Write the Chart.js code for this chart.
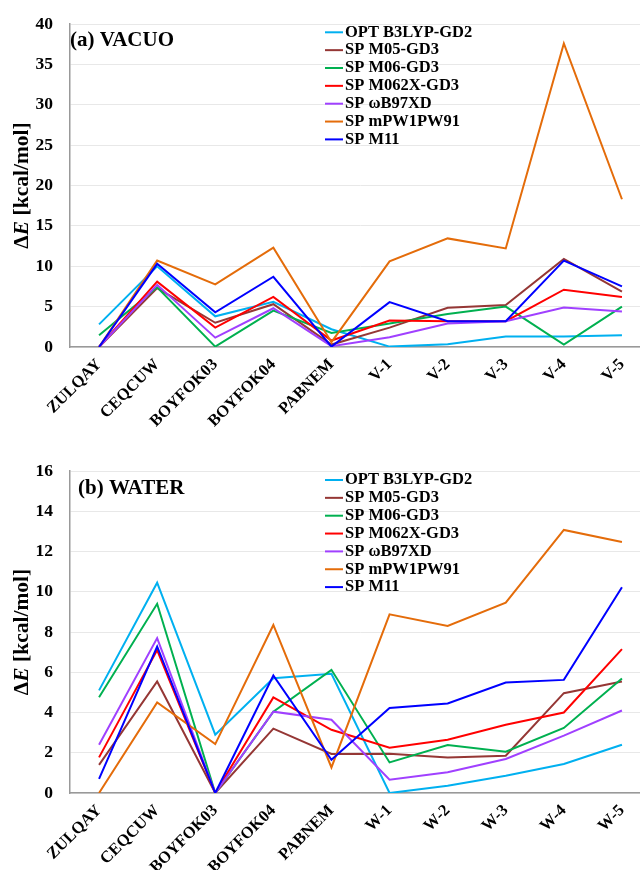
<!DOCTYPE html>
<html>
<head>
<meta charset="utf-8">
<script src="https://cdn.jsdelivr.net/npm/chart.js@4.4.0/dist/chart.umd.min.js"></script>
<style>
  html, body { margin: 0; padding: 0; background: #fff; }
  #wrap { position: relative; width: 640px; height: 870px; overflow: hidden; }
  canvas { position: absolute; left: 0; }
  #chartA { top: 0; }
  #chartB { top: 435px; }
</style>
</head>
<body>
<div id="wrap">
  <canvas id="chartA" width="651" height="435" style="width:651px;height:435px"></canvas>
  <canvas id="chartB" width="651" height="435" style="width:651px;height:435px"></canvas>
</div>
<script>
const vacuoLabels = ["ZULQAY", "CEQCUW", "BOYFOK03", "BOYFOK04", "PABNEM", "V-1", "V-2", "V-3", "V-4", "V-5"];
const waterLabels = ["ZULQAY", "CEQCUW", "BOYFOK03", "BOYFOK04", "PABNEM", "W-1", "W-2", "W-3", "W-4", "W-5"];

const seriesNames = ["OPT B3LYP-GD2", "SP M05-GD3", "SP M06-GD3", "SP M062X-GD3", "SP ωB97XD", "SP mPW1PW91", "SP M11"];
const seriesColors = ["#00B0F0", "#953735", "#00B050", "#FF0000", "#A040FF", "#E46C0A", "#0000FF"];

// (a) vacuo, kcal/mol
const vacuoOpt   = [2.8, 10.0, 3.8, 5.6, 2.2, 0.05, 0.33, 1.3, 1.3, 1.45];
const vacuoM05   = [0, 7.3, 3.0, 5.3, 0.3, 2.4, 4.85, 5.2, 10.9, 6.85];
const vacuoM06   = [1.45, 7.4, 0.05, 4.5, 1.75, 2.9, 4.1, 5.0, 0.3, 5.0];
const vacuoM062X = [0, 8.1, 2.4, 6.2, 0.8, 3.28, 3.2, 3.2, 7.1, 6.2];
const vacuoWB97  = [0, 7.7, 1.16, 4.8, 0.1, 1.2, 2.9, 3.2, 4.9, 4.4];
const vacuoMPW   = [0, 10.7, 7.76, 12.3, 0.6, 10.6, 13.45, 12.2, 37.6, 18.3];
const vacuoM11   = [0, 10.3, 4.3, 8.7, 0.05, 5.56, 3.2, 3.2, 10.7, 7.5];

// (b) water, kcal/mol
const waterOpt   = [5.1, 10.45, 2.9, 5.7, 5.92, 0, 0.36, 0.86, 1.44, 2.4];
const waterM05   = [1.4, 5.54, 0, 3.2, 1.94, 1.95, 1.77, 1.85, 4.96, 5.54];
const waterM06   = [4.76, 9.4, 0, 4.04, 6.12, 1.52, 2.38, 2.05, 3.23, 5.69];
const waterM062X = [1.77, 7.1, 0, 4.75, 3.14, 2.25, 2.65, 3.39, 4.0, 7.15];
const waterWB97  = [2.4, 7.7, 0, 4.04, 3.64, 0.66, 1.03, 1.69, 2.85, 4.1];
const waterMPW   = [0, 4.5, 2.43, 8.35, 1.27, 8.88, 8.3, 9.46, 13.07, 12.47];
const waterM11   = [0.7, 7.28, 0, 5.84, 1.65, 4.22, 4.45, 5.49, 5.62, 10.22];

const vacuoSeries = [vacuoOpt, vacuoM05, vacuoM06, vacuoM062X, vacuoWB97, vacuoMPW, vacuoM11];
const waterSeries = [waterOpt, waterM05, waterM06, waterM062X, waterWB97, waterMPW, waterM11];

const serif = "'Liberation Serif', 'Times New Roman', serif";

function decor(panelTitle, titleDx, titleDy, legendDy) {
  return {
    id: "decor",
    afterDraw(chart) {
      const ctx = chart.ctx;
      const area = chart.chartArea;
      ctx.save();
      ctx.fillStyle = "#000";
      ctx.textBaseline = "middle";
      ctx.textAlign = "left";

      ctx.font = `bold 21px ${serif}`;
      ctx.fillText(panelTitle, area.left + titleDx, area.top + titleDy);

      // legend inside the plot
      ctx.font = `bold 16.5px ${serif}`;
      chart.data.datasets.forEach((ds, i) => {
        const y = area.top + legendDy + i * 17.85;
        ctx.strokeStyle = ds.borderColor;
        ctx.lineWidth = 2;
        ctx.beginPath();
        ctx.moveTo(325, y);
        ctx.lineTo(343, y);
        ctx.stroke();
        ctx.fillText(ds.label, 345, y);
      });

      // y axis title: ΔE [kcal/mol], E in italics
      const parts = [["Δ", "bold"], ["E", "italic bold"], [" [kcal/mol]", "bold"]];
      let total = 0;
      parts.forEach(p => { ctx.font = `${p[1]} 21.5px ${serif}`; total += ctx.measureText(p[0]).width; });
      ctx.translate(22, (area.top + area.bottom) / 2);
      ctx.rotate(-Math.PI / 2);
      let x = -total / 2;
      parts.forEach(p => {
        ctx.font = `${p[1]} 21.5px ${serif}`;
        ctx.fillText(p[0], x, 0);
        x += ctx.measureText(p[0]).width;
      });
      ctx.restore();
    }
  };
}

function makeChart(id, labels, series, yMax, yStep, top, xHeight, plugin) {
  return new Chart(document.getElementById(id), {
    type: "line",
    data: {
      labels,
      datasets: series.map((values, i) => ({
        label: seriesNames[i],
        data: values,
        borderColor: seriesColors[i],
        backgroundColor: seriesColors[i],
        borderWidth: 2,
        pointRadius: 0,
        tension: 0,
        fill: false,
        order: seriesNames.length - i
      }))
    },
    options: {
      responsive: false,
      animation: false,
      events: [],
      layout: { padding: { top, right: 0, bottom: 0, left: 0 } },
      plugins: { legend: { display: false }, tooltip: { enabled: false } },
      scales: {
        x: {
          offset: true,
          grid: { display: false },
          border: { color: "#999", width: 1.5 },
          ticks: {
            autoSkip: false,
            minRotation: 45,
            maxRotation: 45,
            padding: 0,
            color: "#000",
            font: { family: serif, size: 16.5, weight: "bold" }
          },
          afterFit(scale) {
            scale.height = xHeight;
            scale.paddingLeft = 0;
            scale.paddingRight = 0;
          }
        },
        y: {
          min: 0,
          max: yMax,
          grid: { color: "#E8E8E8", drawTicks: false },
          border: { color: "#999", width: 1.5 },
          ticks: {
            stepSize: yStep,
            padding: 17,
            color: "#000",
            font: { family: serif, size: 17.5, weight: "bold" }
          },
          afterFit(scale) {
            scale.width = 70;
            scale.paddingTop = 0;
            scale.paddingBottom = 0;
          }
        }
      }
    },
    plugins: [plugin]
  });
}

makeChart("chartA", vacuoLabels, vacuoSeries, 40, 5, 24, 88, decor("(a) VACUO", 0, 17, 8.3));
makeChart("chartB", waterLabels, waterSeries, 16, 2, 36, 77, decor("(b) WATER", 8, 18, 9));
</script>
</body>
</html>
